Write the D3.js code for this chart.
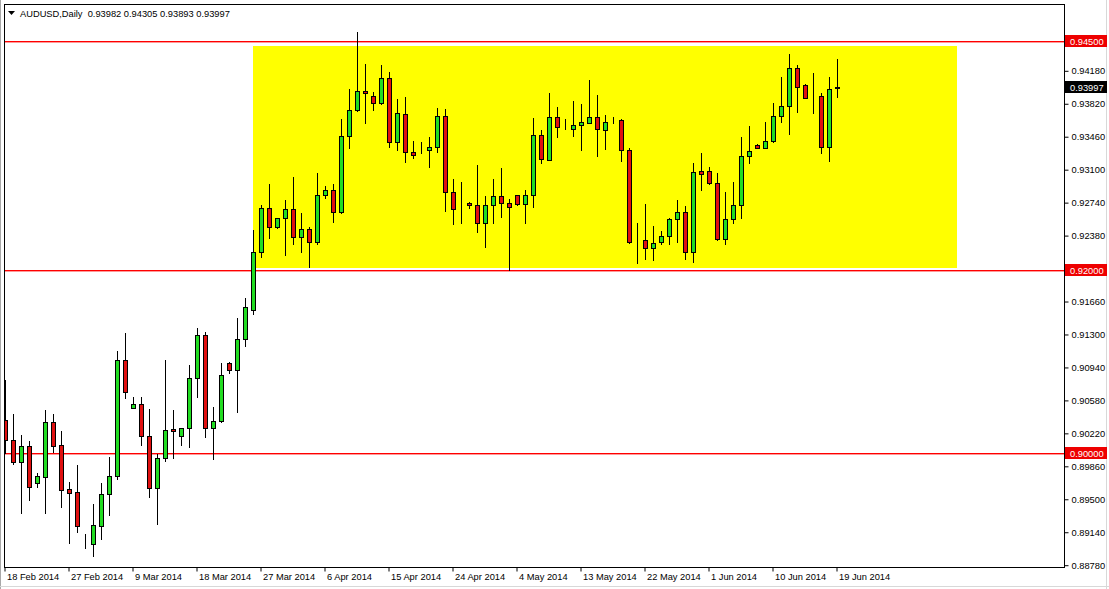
<!DOCTYPE html>
<html>
<head>
<meta charset="utf-8">
<script src="https://cdn.jsdelivr.net/npm/d3@7"></script>
<style>
  html, body { margin: 0; padding: 0; background: #ffffff; }
  svg { display: block; }
  text { font-family: "Liberation Sans", Arial, sans-serif; }
</style>
</head>
<body>
<svg id="chart" width="1109" height="589"></svg>
<script>
// ---------------- DATA ----------------
const symbol = "AUDUSD,Daily";

const open = [
  0.90361,0.90142,0.89905,0.90077,0.89669,0.89741,0.90335,0.90084,0.89604,0.89571,
  0.89006,0.89003,0.89206,0.89549,0.89749,0.91016,0.90488,0.90532,0.90186,0.89615,
  0.89942,0.90262,0.90186,0.90273,0.90816,0.91289,0.90270,0.90350,0.90986,0.90907,
  0.91242,0.91560,0.92192,0.92673,0.92465,0.92564,0.92662,0.92356,0.92443,0.92301,
  0.92815,0.92869,0.92636,0.93459,0.93743,0.93954,0.93896,0.93820,0.94093,0.93400,
  0.93699,0.93284,0.93306,0.93306,0.93342,0.93678,0.92854,0.92668,0.92731,0.92706,
  0.92509,0.92706,0.92804,0.92727,0.92813,0.92723,0.92813,0.93470,0.93200,0.93673,
  0.93561,0.93542,0.93579,0.93608,0.93667,0.93531,0.93637,0.93637,0.93306,0.92316,
  0.92323,0.92236,0.92308,0.92367,0.92553,0.92629,0.92199,0.93080,0.93080,0.92946,
  0.92334,0.92553,0.92706,0.93242,0.93362,0.93335,0.93408,0.93681,0.93788,0.94202,
  0.94019,0.93888,0.93899,0.93346,0.93982
];
const high = [
  0.90797,0.90426,0.90197,0.90131,0.89785,0.90470,0.90426,0.90240,0.89687,0.89869,
  0.89112,0.89443,0.89676,0.89960,0.91114,0.91308,0.90615,0.90615,0.90481,0.89986,
  0.91016,0.90470,0.90273,0.90961,0.91362,0.91318,0.90506,0.90980,0.90997,0.91471,
  0.91693,0.92436,0.92709,0.92938,0.92564,0.92763,0.93018,0.92625,0.92472,0.93055,
  0.92916,0.92938,0.93648,0.93976,0.94595,0.94249,0.93940,0.94238,0.94161,0.93867,
  0.93885,0.93405,0.93397,0.93455,0.93768,0.93757,0.92989,0.92960,0.92745,0.93146,
  0.92807,0.92993,0.93113,0.92771,0.92820,0.92873,0.93656,0.93528,0.93935,0.93782,
  0.93645,0.93848,0.93812,0.94074,0.93910,0.93692,0.93673,0.93645,0.93328,0.92509,
  0.92720,0.92483,0.92425,0.92567,0.92763,0.92701,0.93164,0.93273,0.93121,0.93055,
  0.92847,0.92960,0.93448,0.93572,0.93370,0.93619,0.93823,0.94110,0.94358,0.94241,
  0.94025,0.94154,0.93935,0.94110,0.94305
];
const low = [
  0.90000,0.89880,0.89342,0.89487,0.89632,0.89348,0.90014,0.89414,0.89014,0.89134,
  0.88959,0.88875,0.89061,0.89323,0.89713,0.90598,0.90488,0.90088,0.89516,0.89221,
  0.89916,0.89942,0.90088,0.90069,0.90615,0.90178,0.89931,0.90342,0.90871,0.90451,
  0.91172,0.91520,0.92138,0.92345,0.92454,0.92159,0.92280,0.92199,0.92035,0.92283,
  0.92782,0.92520,0.92625,0.93328,0.93735,0.93608,0.93743,0.93809,0.93342,0.93306,
  0.93182,0.93219,0.93280,0.93127,0.93291,0.92647,0.92498,0.92515,0.92679,0.92417,
  0.92253,0.92509,0.92581,0.91999,0.92713,0.92509,0.92690,0.93164,0.93195,0.93448,
  0.93536,0.93462,0.93310,0.93600,0.93244,0.93324,0.93601,0.93193,0.92294,0.92072,
  0.92122,0.92111,0.92283,0.92286,0.92308,0.92122,0.92083,0.92869,0.92938,0.92327,
  0.92280,0.92509,0.92564,0.93171,0.93328,0.93328,0.93400,0.93619,0.93484,0.93728,
  0.93874,0.93710,0.93280,0.93193,0.93893
];
const close = [
  0.90142,0.89905,0.90077,0.89632,0.89749,0.90335,0.90080,0.89596,0.89567,0.89206,
  0.89006,0.89210,0.89549,0.89749,0.91016,0.90663,0.90532,0.90186,0.89615,0.89942,
  0.90251,0.90237,0.90273,0.90816,0.91289,0.90270,0.90350,0.90852,0.90907,0.91242,
  0.91598,0.92192,0.92673,0.92472,0.92564,0.92662,0.92356,0.92443,0.92301,0.92815,
  0.92869,0.92636,0.93459,0.93743,0.93954,0.93929,0.93820,0.94093,0.93400,0.93710,
  0.93284,0.93252,0.93306,0.93342,0.93678,0.92854,0.92662,0.92668,0.92706,0.92509,
  0.92706,0.92804,0.92727,0.92684,0.92723,0.92813,0.93470,0.93208,0.93667,0.93557,
  0.93561,0.93579,0.93615,0.93667,0.93536,0.93615,0.93637,0.93306,0.92301,0.92316,
  0.92236,0.92294,0.92367,0.92553,0.92629,0.92199,0.93066,0.93044,0.92946,0.92334,
  0.92553,0.92706,0.93242,0.93296,0.93335,0.93408,0.93681,0.93788,0.94202,0.94001,
  0.93881,0.93888,0.93346,0.93972,0.93997
];

// date axis: bar index of each labelled tick and its text
const dateTickBars = [0, 8, 16, 24, 32, 40, 48, 56, 64, 72, 80, 88, 96, 104];
const dateTickLabels = ["18 Feb 2014","27 Feb 2014","9 Mar 2014","18 Mar 2014","27 Mar 2014",
  "6 Apr 2014","15 Apr 2014","24 Apr 2014","4 May 2014","13 May 2014","22 May 2014",
  "1 Jun 2014","10 Jun 2014","19 Jun 2014"];

// price axis tick labels
const priceTicks = [0.94180,0.93820,0.93460,0.93100,0.92740,0.92380,0.91660,0.91300,
  0.90940,0.90580,0.90220,0.89860,0.89500,0.89140,0.88780];

// horizontal levels (red lines) and the yellow range box
const levels = [0.94500, 0.92000, 0.90000];
const zoneBars = [31, 119];
const zonePrices = [0.94445, 0.92020];

// ---------------- LAYOUT ----------------
const W = 1109, H = 589;
const frame = {left: 4, top: 4, right: 1064, bottom: 567};
const barStep = 8;

const svg = d3.select("#chart");
svg.append("rect").attr("width", W).attr("height", H).attr("fill", "#ffffff");

const n = close.length;
const x = d3.scaleLinear().domain([0, 132]).range([5, 5 + barStep * 132]);
const y = d3.scaleLinear().domain([0.945, 0.900]).range([41, 453]);

const fmt = d3.format(".5f");
const px = v => Math.round(v);

// clip
svg.append("clipPath").attr("id", "plotclip")
  .append("rect")
  .attr("x", frame.left + 1).attr("y", frame.top + 1)
  .attr("width", frame.right - frame.left - 1)
  .attr("height", frame.bottom - frame.top - 1);

const plot = svg.append("g").attr("clip-path", "url(#plotclip)");

// yellow box
plot.append("rect")
  .attr("x", px(x(zoneBars[0])))
  .attr("y", px(y(zonePrices[0])))
  .attr("width", px(x(zoneBars[1])) - px(x(zoneBars[0])))
  .attr("height", px(y(zonePrices[1])) - px(y(zonePrices[0])))
  .attr("fill", "#ffff00");

// red level lines (1px filled strips)
plot.selectAll("rect.level").data(levels).join("rect")
  .attr("class", "level")
  .attr("x", frame.left).attr("width", frame.right - frame.left)
  .attr("y", d => px(y(d)) - 0.0).attr("height", 1.4)
  .attr("fill", "#ff0000");

// candles
const idx = d3.range(n);
const cg = plot.append("g");
cg.selectAll("line.wick").data(idx).join("line")
  .attr("class", "wick")
  .attr("x1", i => px(x(i)) + 0.5).attr("x2", i => px(x(i)) + 0.5)
  .attr("y1", i => px(y(high[i]))).attr("y2", i => px(y(low[i])) + 1)
  .attr("stroke", "#000").attr("stroke-width", 1);

cg.selectAll("rect.body").data(idx).join("rect")
  .attr("class", "body")
  .attr("x", i => px(x(i)) - 2 + 0.5)
  .attr("y", i => px(y(Math.max(open[i], close[i]))) + 0.5)
  .attr("width", 4)
  .attr("height", i => Math.max(0, px(y(Math.min(open[i], close[i]))) - px(y(Math.max(open[i], close[i])))))
  .attr("fill", i => close[i] > open[i] ? "#22dd22" : (close[i] < open[i] ? "#e01010" : "none"))
  .attr("stroke", "#000").attr("stroke-width", 1);

// frame
svg.append("rect")
  .attr("x", frame.left + 0.5).attr("y", frame.top + 0.5)
  .attr("width", frame.right - frame.left).attr("height", frame.bottom - frame.top)
  .attr("fill", "none").attr("stroke", "#000").attr("stroke-width", 1);

// window border lines
svg.append("line").attr("x1", 0.5).attr("x2", 0.5).attr("y1", 0).attr("y2", H)
  .attr("stroke", "#a8a8a8");
svg.append("line").attr("x1", W - 2.5).attr("x2", W - 2.5).attr("y1", 0).attr("y2", H)
  .attr("stroke", "#d8d8d8");
svg.append("line").attr("x1", 0).attr("x2", W).attr("y1", H - 2.5).attr("y2", H - 2.5)
  .attr("stroke", "#d8d8d8");

// price axis
const yAxis = d3.axisRight(y).tickValues(priceTicks).tickFormat(fmt).tickSize(4).tickSizeOuter(0).tickPadding(3);
const ya = svg.append("g").attr("transform", `translate(${frame.right + 0.5},0.5)`).call(yAxis);
ya.select(".domain").remove();
ya.selectAll(".tick line").attr("stroke", "#000");
ya.selectAll(".tick text").attr("font-size", "9.3px").attr("fill", "#000")
  .attr("font-family", "'Liberation Sans', Arial, sans-serif");

// level price tags (red) and current price tag (black)
function tag(price, bg) {
  const yy = px(y(price));
  const g = svg.append("g");
  g.append("rect").attr("x", frame.right + 1).attr("y", yy - 6)
    .attr("width", 42).attr("height", 12).attr("fill", bg);
  g.append("text").attr("x", frame.right + 6).attr("y", yy + 3.5)
    .attr("font-size", "9.3px").attr("fill", "#ffffff").text(fmt(price));
}
levels.forEach(l => tag(l, "#ee0000"));
tag(close[n - 1], "#000000");

// date axis
const xAxis = d3.axisBottom(x).tickValues(dateTickBars)
  .tickFormat((d, i) => dateTickLabels[i]).tickSize(4).tickSizeOuter(0).tickPadding(2);
const xa = svg.append("g").attr("transform", `translate(-0.5,${frame.bottom + 0.5})`).call(xAxis);
xa.select(".domain").remove();
xa.selectAll(".tick line").attr("stroke", "#000");
xa.selectAll(".tick text").attr("font-size", "9.3px").attr("fill", "#000")
  .attr("text-anchor", "start").attr("dx", "2px")
  .attr("font-family", "'Liberation Sans', Arial, sans-serif");

// title
svg.append("path").attr("d", "M8,11 L15,11 L11.5,15 Z").attr("fill", "#000");
svg.append("text").attr("x", 20).attr("y", 16.5).attr("font-size", "9.3px")
  .attr("fill", "#000").style("white-space", "pre")
  .text(`${symbol}  ${fmt(open[n-1])} ${fmt(high[n-1])} ${fmt(low[n-1])} ${fmt(close[n-1])}`);
</script>
</body>
</html>
